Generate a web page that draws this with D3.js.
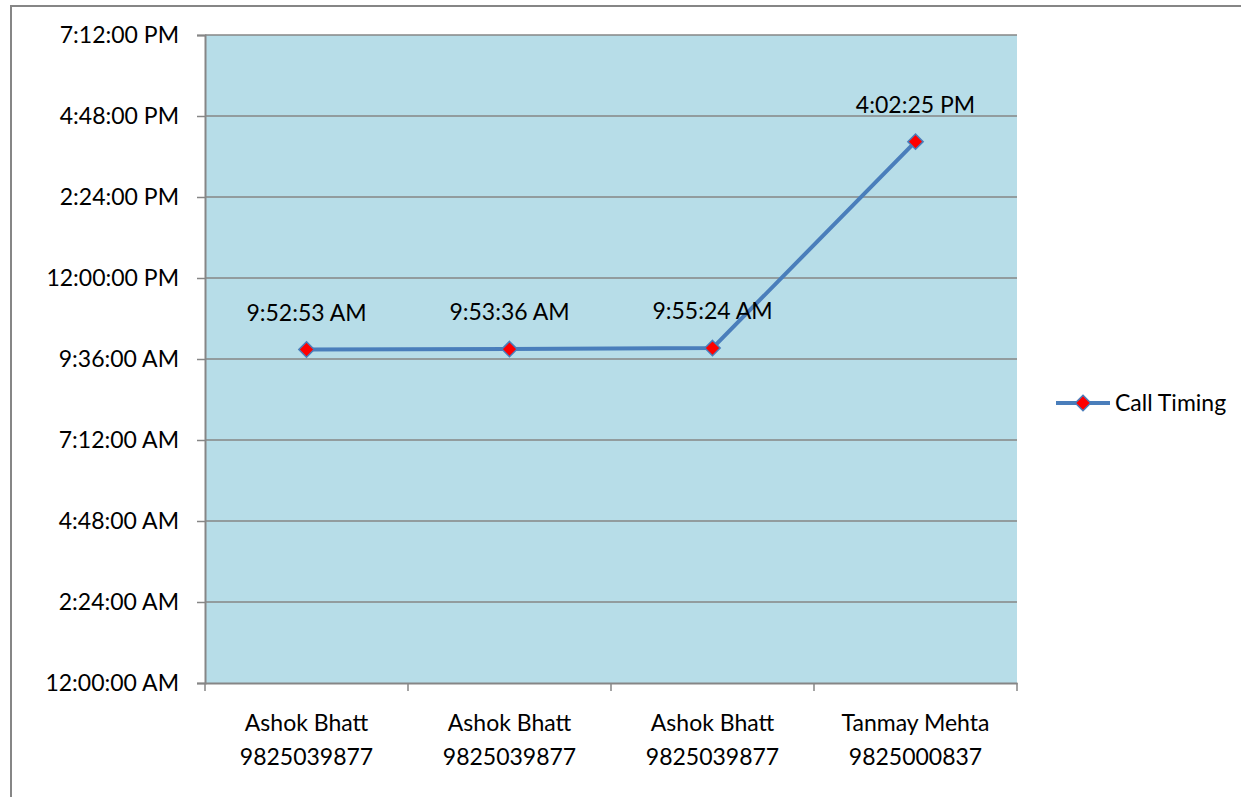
<!DOCTYPE html>
<html>
<head>
<meta charset="utf-8">
<script src="https://cdn.jsdelivr.net/npm/d3@7"></script>
<style>
  body { margin: 0; background: #fff; }
  svg text { font-family: Lato, "Open Sans", sans-serif; fill: #000; }
</style>
</head>
<body>
<svg width="1241" height="797"></svg>
<script>
// call data (times as seconds after midnight)
var callers = ["Ashok Bhatt", "Ashok Bhatt", "Ashok Bhatt", "Tanmay Mehta"];
var phones = ["9825039877", "9825039877", "9825039877", "9825000837"];
var callLabels = ["9:52:53 AM", "9:53:36 AM", "9:55:24 AM", "4:02:25 PM"];
var callSeconds = [35573, 35616, 35724, 57745];
var yTicks = [0, 8640, 17280, 25920, 34560, 43200, 51840, 60480, 69120];
var yTickLabels = ["12:00:00 AM", "2:24:00 AM", "4:48:00 AM", "7:12:00 AM", "9:36:00 AM",
                   "12:00:00 PM", "2:24:00 PM", "4:48:00 PM", "7:12:00 PM"];

var fs = 23;
var svg = d3.select("svg"),
    margin = {top: 35, left: 205},
    width = 812,
    height = 648;

// outer chart border
svg.append("rect")
    .attr("x", 11).attr("y", 6)
    .attr("width", 1240).attr("height", 800)
    .attr("fill", "none")
    .attr("stroke", "#868686")
    .attr("stroke-width", 2);

var x = d3.scaleBand().domain(d3.range(callers.length)).range([0, width]),
    y = d3.scaleLinear().domain([0, 69120]).range([height, 0]);

var g = svg.append("g")
    .attr("transform", "translate(" + margin.left + "," + margin.top + ")");

g.append("rect")
    .attr("width", width).attr("height", height)
    .attr("fill", "#b7dde8");

// gridlines
g.selectAll(".grid")
    .data(yTicks.slice(1))
  .enter().append("line")
    .attr("x1", 0).attr("x2", width)
    .attr("y1", function(d) { return y(d); })
    .attr("y2", function(d) { return y(d); })
    .attr("stroke", "#868686")
    .attr("stroke-width", 1.5);

// y axis
var yAxis = g.append("g")
    .call(d3.axisLeft(y).tickValues(yTicks).tickSize(8).tickPadding(18)
      .tickFormat(function(d, i) { return yTickLabels[i]; }));
yAxis.select(".domain").attr("stroke", "#868686").attr("stroke-width", 2);
yAxis.selectAll(".tick line").attr("stroke", "#868686").attr("stroke-width", 1.5);
yAxis.selectAll(".tick text").attr("font-size", fs).attr("font-family", "Lato");

// x axis
var xAxis = g.append("g")
    .attr("transform", "translate(0," + height + ")")
    .call(d3.axisBottom(x).tickSize(0).tickFormat(""));
xAxis.select(".domain").attr("stroke", "#868686").attr("stroke-width", 2);

var xt = d3.range(callers.length + 1).map(function(i) { return i * x.step(); });
xAxis.selectAll(".xt")
    .data(xt)
  .enter().append("line")
    .attr("x1", function(d) { return d; }).attr("x2", function(d) { return d; })
    .attr("y1", 0).attr("y2", 8)
    .attr("stroke", "#868686").attr("stroke-width", 1.5);

var xl = g.selectAll(".xlab")
    .data(callers)
  .enter().append("text")
    .attr("text-anchor", "middle")
    .attr("font-size", fs)
    .attr("x", function(d, i) { return x(i) + x.bandwidth() / 2; })
    .attr("y", height + 48);
xl.append("tspan").text(function(d) { return d; });
xl.append("tspan")
    .attr("x", function(d, i) { return x(i) + x.bandwidth() / 2; })
    .attr("dy", 34)
    .text(function(d, i) { return phones[i]; });

// line
var cx = function(i) { return x(i) + x.bandwidth() / 2; };
g.append("path")
    .datum(callSeconds)
    .attr("fill", "none")
    .attr("stroke", "#4a7ebb")
    .attr("stroke-width", 4)
    .attr("stroke-linejoin", "round")
    .attr("d", d3.line().x(function(d, i) { return cx(i); }).y(function(d) { return y(d); }));

var diamond = d3.symbol().type(d3.symbolDiamond2).size(150);

g.selectAll(".pt")
    .data(callSeconds)
  .enter().append("path")
    .attr("transform", function(d, i) { return "translate(" + cx(i) + "," + y(d) + ")"; })
    .attr("d", diamond)
    .attr("fill", "#ff0000")
    .attr("stroke", "#4a7ebb")
    .attr("stroke-width", 1.5);

g.selectAll(".dl")
    .data(callSeconds)
  .enter().append("text")
    .attr("text-anchor", "middle")
    .attr("font-size", fs)
    .attr("x", function(d, i) { return cx(i); })
    .attr("y", function(d) { return y(d) - 29; })
    .text(function(d, i) { return callLabels[i]; });

// legend
var lg = svg.append("g").attr("transform", "translate(1056,403)");
lg.append("line").attr("x1", 0).attr("x2", 54)
    .attr("stroke", "#4a7ebb").attr("stroke-width", 4);
lg.append("path").attr("transform", "translate(27,0)").attr("d", diamond)
    .attr("fill", "#ff0000").attr("stroke", "#4a7ebb").attr("stroke-width", 1.5);
lg.append("text").attr("x", 59).attr("y", 8).attr("font-size", fs).text("Call Timing");
</script>
</body>
</html>
